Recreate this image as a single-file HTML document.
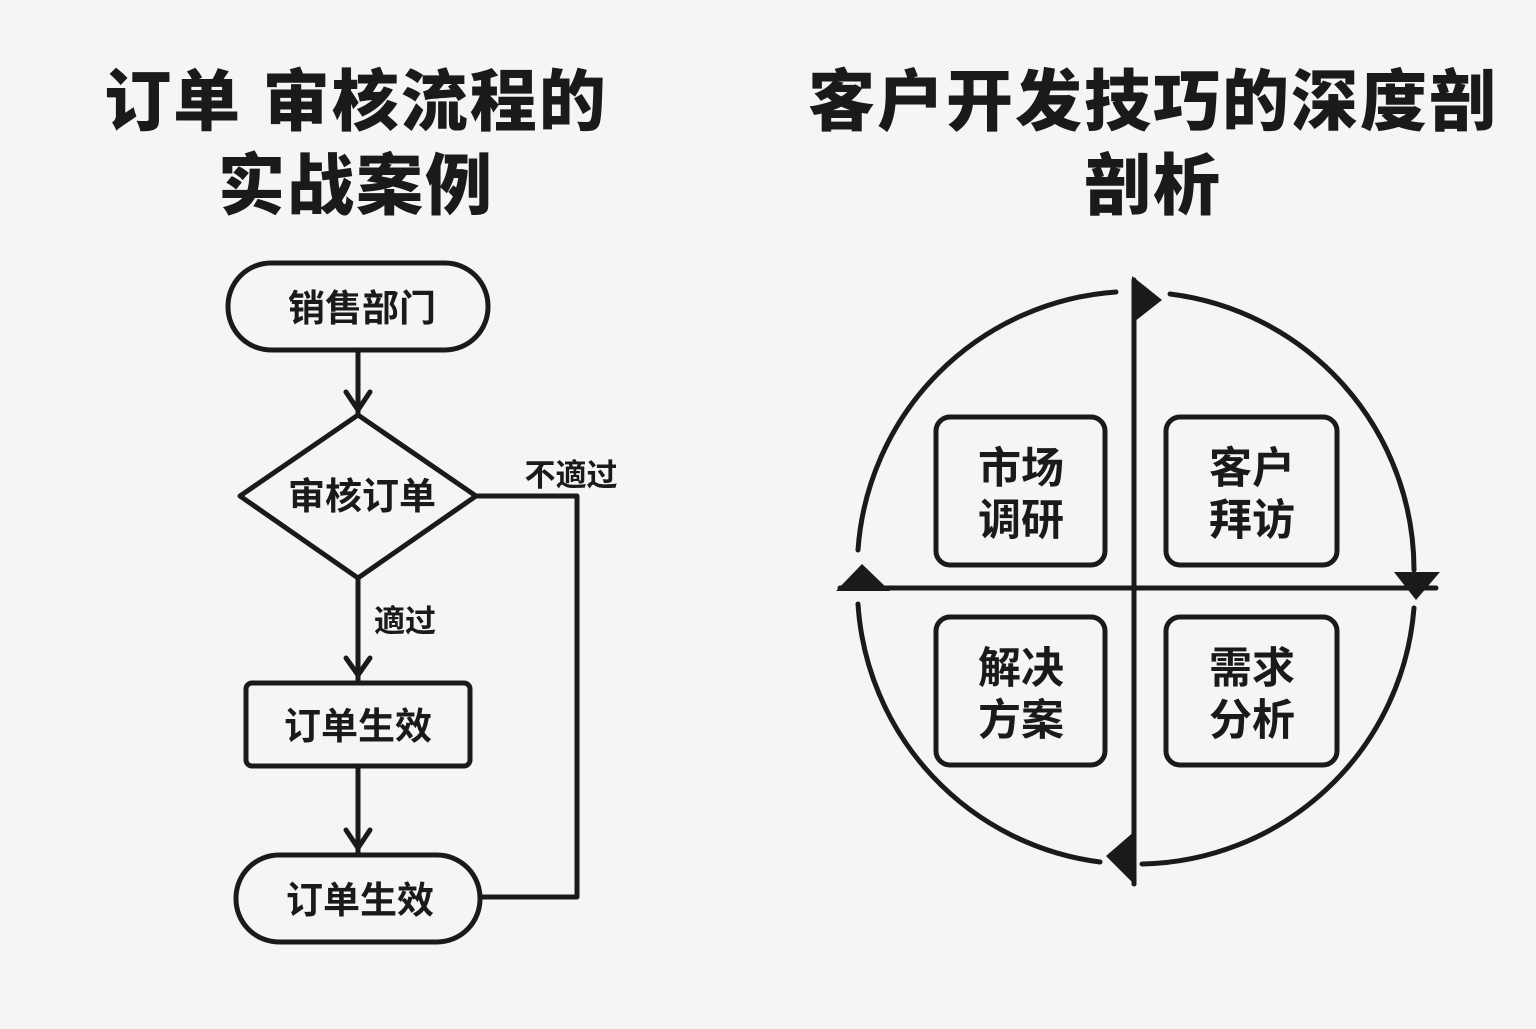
<!DOCTYPE html>
<html><head><meta charset="utf-8"><style>
html,body{margin:0;padding:0;background:#f5f5f5;}
body{width:1536px;height:1024px;overflow:hidden;}
svg text{font-family:"Liberation Sans","Noto Sans CJK SC",sans-serif;fill:#1a1a1a;}
</style></head><body>
<svg width="1536" height="1024" viewBox="0 0 1536 1024" xmlns="http://www.w3.org/2000/svg">
<rect width="1536" height="1024" fill="#f5f5f5"/>
<g font-weight="900" font-size="67" text-anchor="middle">
<text x="356" y="125" letter-spacing="2">订单 审核流程的</text>
<text x="356" y="209" letter-spacing="2">实战案例</text>
<text x="1153" y="125" letter-spacing="2">客户开发技巧的深度剖</text>
<text x="1153" y="209" letter-spacing="2">剖析</text>
</g>
<g fill="none" stroke="#1a1a1a" stroke-width="5" stroke-linejoin="round" stroke-linecap="round">
<rect x="228" y="263" width="260" height="87" rx="43"/>
<line x1="358" y1="350" x2="358" y2="413"/>
<polyline points="346,392 358,410 370,392"/>
<polygon points="358,415 476,496 358,578 240,496"/>
<line x1="358" y1="578" x2="358" y2="680"/>
<polyline points="346,658 358,675 370,658"/>
<rect x="246" y="683" width="224" height="83" rx="6"/>
<line x1="358" y1="766" x2="358" y2="853"/>
<polyline points="346,830 358,848 370,830"/>
<rect x="236" y="855" width="244" height="87" rx="43"/>
<polyline points="476,496 577,496 577,897 480,897"/>
</g>
<g font-weight="700" font-size="37" text-anchor="middle">
<text x="362" y="321">销售部门</text>
<text x="362" y="509">审核订单</text>
<text x="358" y="739">订单生效</text>
<text x="360" y="913">订单生效</text>
</g>
<g font-weight="700" font-size="31" text-anchor="middle">
<text x="405" y="632">適过</text>
<text x="571" y="486">不適过</text>
</g>
<g fill="none" stroke="#1a1a1a" stroke-width="5" stroke-linecap="round">
<path d="M1116,292 A278,278 0 0 0 858,550"/>
<path d="M858,604 A278,278 0 0 0 1100,862"/>
<path d="M1142,864 A278,278 0 0 0 1414,608"/>
<path d="M1414,570 A278,278 0 0 0 1170,294"/>
<line x1="1134" y1="280" x2="1134" y2="884"/>
<line x1="840" y1="588" x2="1436" y2="588"/>
<rect x="936" y="417" width="169" height="148" rx="14"/>
<rect x="1166" y="417" width="171" height="148" rx="14"/>
<rect x="936" y="617" width="169" height="148" rx="14"/>
<rect x="1166" y="617" width="171" height="148" rx="14"/>
</g>
<g fill="#1a1a1a">
<polygon points="1132,276 1162,300 1134,322"/>
<polygon points="1394,572 1440,572 1416,600"/>
<polygon points="1136,830 1106,856 1136,886"/>
<polygon points="836,591 862,564 890,591"/>
</g>
<g font-weight="700" font-size="43" text-anchor="middle">
<text x="1021" y="483">市场</text>
<text x="1021" y="535">调研</text>
<text x="1252" y="483">客户</text>
<text x="1252" y="535">拜访</text>
<text x="1021" y="683">解决</text>
<text x="1021" y="735">方案</text>
<text x="1252" y="683">需求</text>
<text x="1252" y="735">分析</text>
</g>
</svg>
</body></html>
